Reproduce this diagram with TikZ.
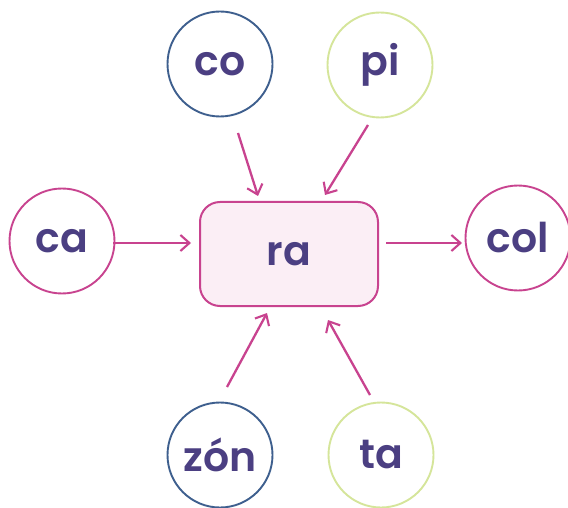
\documentclass[tikz,border=0pt]{standalone}
\usepackage{fontspec}
\setmainfont{Poppins}[UprightFont=*-SemiBold]
\usetikzlibrary{arrows.meta}
\definecolor{mag}{HTML}{C8438F}
\definecolor{boxfill}{HTML}{FBEEF5}
\definecolor{bluec}{HTML}{3E5F8E}
\definecolor{greenc}{HTML}{D5E59A}
\definecolor{txt}{HTML}{4B3F82}
\tikzset{
  syl/.style={circle, minimum size=105pt, inner sep=0pt, line width=1.9pt, fill=white,
    text=txt, font=\fontsize{41}{41}\selectfont},
  magc/.style={syl, draw=mag},
  bluecirc/.style={syl, draw=bluec},
  greencirc/.style={syl, draw=greenc},
  center/.style={draw=mag, fill=boxfill, line width=2pt, rounded corners=20pt,
    minimum width=178pt, minimum height=104pt, text=txt, font=\fontsize{41}{41}\selectfont},
  conn/.style={draw=mag, line width=2.3pt, -{Straight Barb[length=9pt,width=16pt,line width=2.1pt]}}
}
\begin{document}
\begin{tikzpicture}[x=1pt,y=-1pt]
\useasboundingbox (0,0) rectangle (568,508);
\node[center] (ra) at (289,254) {ra};
\node[bluecirc] (co) at (220,64) {co};
\node[greencirc] (pi) at (380,65) {pi};
\node[magc] (ca) at (62,241) {ca};
\node[magc] (col) at (518,238) {col};
\node[bluecirc] (zon) at (220,455) {zón};
\node[greencirc] (ta) at (381,455) {ta};
\coordinate (a1s) at (238,133); \coordinate (a1e) at (258,196);
\coordinate (a2s) at (368,125); \coordinate (a2e) at (325,195);
\coordinate (a3s) at (113,243); \coordinate (a3e) at (191,243);
\coordinate (a4s) at (386,243); \coordinate (a4e) at (462,243);
\coordinate (a5s) at (227,387); \coordinate (a5e) at (267,313);
\coordinate (a6s) at (370,395); \coordinate (a6e) at (328,320);
\draw[conn] (a1s) -- (a1e);
\draw[conn] (a2s) -- (a2e);
\draw[conn] (a3s) -- (a3e);
\draw[conn] (a4s) -- (a4e);
\draw[conn] (a5s) -- (a5e);
\draw[conn] (a6s) -- (a6e);
\end{tikzpicture}
\end{document}
